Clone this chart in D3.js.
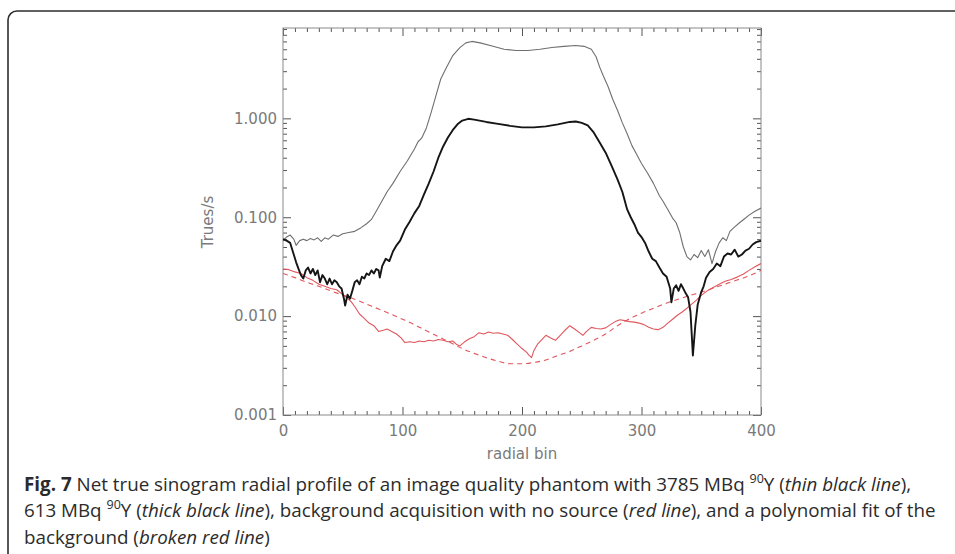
<!DOCTYPE html>
<html>
<head>
<meta charset="utf-8">
<script src="https://cdn.jsdelivr.net/npm/d3@7"></script>
<style>
  body { margin: 0; background: #fff; }
  svg { display: block; }
  .tick-label { font-family: "DejaVu Sans", sans-serif; font-size: 15px; fill: #7a7a7a; }
  .caption { font-family: "Open Sans", sans-serif; font-size: 18.8px; fill: #2b2b2b; }
</style>
</head>
<body>
<div class="chart"></div>
<script>
// radial bins and values
var thinBins = [0, 3, 6, 9, 11, 14, 17, 20, 23, 26, 29, 32, 35, 38, 42, 46, 50, 55, 60, 65, 70, 74, 78, 82, 87, 92, 98, 104, 110, 113, 116, 120, 124, 128, 132, 137, 142, 148, 153, 158, 165, 175, 185, 195, 205, 215, 225, 235, 245, 252, 258, 262, 265, 268, 272, 276, 280, 284, 288, 292, 296, 300, 305, 310, 315, 318, 322, 326, 329, 332, 335, 338, 341, 344, 347, 350, 353, 356, 359, 362, 365, 368, 371, 374, 378, 382, 386, 390, 395, 400];
var thinValues = [0.058, 0.063, 0.066, 0.060, 0.052, 0.058, 0.060, 0.058, 0.061, 0.059, 0.062, 0.057, 0.062, 0.060, 0.066, 0.064, 0.068, 0.070, 0.072, 0.078, 0.086, 0.095, 0.115, 0.14, 0.18, 0.22, 0.29, 0.37, 0.49, 0.58, 0.63, 0.8, 1.15, 1.7, 2.5, 3.3, 4.3, 5.2, 5.8, 6.0, 5.8, 5.4, 5.0, 4.85, 4.85, 5.0, 5.2, 5.35, 5.45, 5.35, 5.0, 4.2, 3.3, 2.7, 2.1, 1.55, 1.2, 0.9, 0.70, 0.53, 0.43, 0.35, 0.28, 0.22, 0.165, 0.145, 0.12, 0.098, 0.088, 0.07, 0.05, 0.04, 0.037, 0.042, 0.039, 0.046, 0.040, 0.047, 0.034, 0.045, 0.055, 0.062, 0.058, 0.072, 0.080, 0.088, 0.096, 0.105, 0.115, 0.124];

var thickBins = [0, 3, 6, 9, 11, 13, 15, 17, 19, 21, 23, 25, 27, 29, 31, 33, 35, 37, 39, 41, 43, 45, 47, 49, 51, 52, 54, 56, 58, 60, 62, 64, 66, 68, 70, 72, 74, 76, 78, 80, 81, 83, 86, 89, 92, 95, 98, 102, 106, 110, 114, 118, 122, 126, 130, 134, 138, 142, 146, 150, 155, 160, 170, 180, 190, 200, 210, 220, 230, 240, 245, 250, 255, 260, 265, 270, 275, 280, 284, 288, 291, 294, 297, 300, 303, 306, 309, 312, 315, 318, 321, 324, 325, 327, 329, 331, 333, 335, 337, 339, 341, 343, 345, 347, 350, 352, 354, 357, 360, 363, 366, 369, 372, 375, 378, 381, 384, 387, 390, 393, 396, 400];
var thickValues = [0.060, 0.058, 0.055, 0.042, 0.035, 0.030, 0.026, 0.024, 0.029, 0.031, 0.027, 0.030, 0.026, 0.029, 0.022, 0.026, 0.024, 0.021, 0.024, 0.021, 0.023, 0.022, 0.020, 0.019, 0.015, 0.0128, 0.0165, 0.0150, 0.018, 0.022, 0.023, 0.021, 0.025, 0.024, 0.027, 0.026, 0.029, 0.027, 0.030, 0.029, 0.0245, 0.032, 0.038, 0.036, 0.045, 0.052, 0.058, 0.075, 0.09, 0.11, 0.13, 0.17, 0.22, 0.29, 0.40, 0.52, 0.64, 0.76, 0.87, 0.95, 0.99, 0.97, 0.92, 0.88, 0.84, 0.81, 0.81, 0.83, 0.87, 0.92, 0.93, 0.90, 0.85, 0.72, 0.57, 0.45, 0.33, 0.24, 0.18, 0.12, 0.10, 0.085, 0.07, 0.063, 0.055, 0.045, 0.038, 0.036, 0.031, 0.027, 0.025, 0.019, 0.0138, 0.019, 0.0205, 0.018, 0.021, 0.019, 0.017, 0.0155, 0.011, 0.004, 0.008, 0.013, 0.0175, 0.020, 0.0245, 0.028, 0.030, 0.034, 0.032, 0.040, 0.043, 0.042, 0.047, 0.040, 0.042, 0.046, 0.048, 0.053, 0.056, 0.058];

var redBins = [0, 5, 10, 15, 20, 25, 30, 35, 40, 45, 50, 53, 57, 60, 64, 68, 72, 76, 80, 84, 87, 91, 95, 99, 102, 106, 110, 114, 118, 122, 126, 130, 134, 138, 142, 145, 148, 152, 156, 160, 164, 168, 172, 176, 180, 184, 188, 192, 196, 200, 204, 206, 208, 210, 213, 216, 220, 224, 228, 232, 236, 240, 244, 248, 251, 254, 258, 262, 266, 270, 274, 278, 282, 286, 290, 294, 298, 302, 306, 310, 314, 318, 322, 326, 330, 334, 338, 342, 346, 350, 355, 360, 365, 370, 375, 380, 385, 390, 395, 400];
var redValues = [0.030, 0.0295, 0.028, 0.027, 0.0245, 0.023, 0.021, 0.020, 0.019, 0.0185, 0.0165, 0.0155, 0.014, 0.0125, 0.0105, 0.0095, 0.0085, 0.0080, 0.0070, 0.0072, 0.0074, 0.0070, 0.0066, 0.0060, 0.0054, 0.0055, 0.0054, 0.0056, 0.0055, 0.0057, 0.0056, 0.0058, 0.0057, 0.0055, 0.0056, 0.0052, 0.0050, 0.0055, 0.0059, 0.0062, 0.0068, 0.0066, 0.0069, 0.0067, 0.0068, 0.0066, 0.0064, 0.0058, 0.0052, 0.0047, 0.0043, 0.0040, 0.0038, 0.0045, 0.0052, 0.0057, 0.0064, 0.0060, 0.0057, 0.0064, 0.0072, 0.0080, 0.0074, 0.0068, 0.0064, 0.0070, 0.0077, 0.0075, 0.0074, 0.0076, 0.0082, 0.0088, 0.0092, 0.0090, 0.0088, 0.0087, 0.0085, 0.0082, 0.0077, 0.0074, 0.0073, 0.0077, 0.0085, 0.0093, 0.0102, 0.0110, 0.0120, 0.0132, 0.0145, 0.0162, 0.0180, 0.0195, 0.0210, 0.0225, 0.0235, 0.0248, 0.0265, 0.0290, 0.0315, 0.0340];

var fitBins = [0, 10, 20, 30, 40, 50, 60, 70, 80, 90, 100, 110, 120, 130, 140, 150, 160, 170, 180, 190, 200, 210, 220, 230, 240, 250, 260, 270, 280, 290, 300, 310, 320, 330, 340, 350, 360, 370, 380, 390, 400];
var fitValues = [0.027, 0.0245, 0.022, 0.020, 0.018, 0.0163, 0.0148, 0.0132, 0.0118, 0.0105, 0.0093, 0.0082, 0.0071, 0.0062, 0.0054, 0.0047, 0.0042, 0.0038, 0.0035, 0.0033, 0.0033, 0.0034, 0.0036, 0.0040, 0.0044, 0.0050, 0.0057, 0.0066, 0.0080, 0.0094, 0.0107, 0.0120, 0.0134, 0.0147, 0.0161, 0.0175, 0.0192, 0.0211, 0.0232, 0.0255, 0.0290];

// axis ticks and labels
var xMajor = [0, 100, 200, 300, 400];
var xLabels = ["0", "100", "200", "300", "400"];
var yMajor = [0.001, 0.01, 0.1, 1];
var yLabels = ["0.001", "0.010", "0.100", "1.000"];

var svgWidth = 955;
var svgHeight = 554;

var plot = { left: 283, right: 761, top: 28, bottom: 415 };

var svg = d3.select(".chart")
  .append("svg")
  .attr("width", svgWidth)
  .attr("height", svgHeight);

// outer figure border with rounded corner
svg.append("rect")
  .attr("x", 8)
  .attr("y", 11)
  .attr("width", 1000)
  .attr("height", 600)
  .attr("rx", 9)
  .attr("fill", "none")
  .attr("stroke", "#2e2e2e")
  .attr("stroke-width", 1.6);

// scales
var x = d3.scaleLinear()
  .domain([0, 400])
  .range([plot.left, plot.right]);

var y = d3.scaleLog()
  .domain([0.001, 8.2])
  .range([plot.bottom, plot.top]);

// minor tick positions
var xMinor = d3.range(0, 401, 10).filter(d => d % 100 !== 0);
var yMinor = [];
[0.001, 0.01, 0.1, 1].forEach(dec => {
  for (var k = 2; k <= 9; k++) {
    if (dec * k <= 8.2) yMinor.push(dec * k);
  }
});

var tickColor = "#555";

function drawAxis(axis, tx, ty, labels) {
  var g = svg.append("g")
    .attr("transform", `translate(${tx}, ${ty})`)
    .call(axis);
  g.select(".domain").remove();
  g.selectAll(".tick line").attr("stroke", tickColor).attr("stroke-width", 1);
  if (labels) {
    g.selectAll(".tick text")
      .attr("class", "tick-label")
      .attr("fill", null);
  } else {
    g.selectAll(".tick text").remove();
  }
  return g;
}

// bottom and top x ticks (pointing inward)
drawAxis(d3.axisBottom(x).tickValues(xMajor).tickSize(-8).tickPadding(10)
  .tickFormat((d, i) => xLabels[i]), 0, plot.bottom, true);
drawAxis(d3.axisBottom(x).tickValues(xMinor).tickSize(-4), 0, plot.bottom, false);
drawAxis(d3.axisTop(x).tickValues(xMajor).tickSize(-8), 0, plot.top, false);
drawAxis(d3.axisTop(x).tickValues(xMinor).tickSize(-4), 0, plot.top, false);

// left and right y ticks (pointing inward)
drawAxis(d3.axisLeft(y).tickValues(yMajor).tickSize(-8).tickPadding(6)
  .tickFormat((d, i) => yLabels[i]), plot.left, 0, true);
drawAxis(d3.axisLeft(y).tickValues(yMinor).tickSize(-4), plot.left, 0, false);
drawAxis(d3.axisRight(y).tickValues(yMajor).tickSize(-8), plot.right, 0, false);
drawAxis(d3.axisRight(y).tickValues(yMinor).tickSize(-4), plot.right, 0, false);

// plot frame
svg.append("rect")
  .attr("x", plot.left)
  .attr("y", plot.top)
  .attr("width", plot.right - plot.left)
  .attr("height", plot.bottom - plot.top)
  .attr("fill", "none")
  .attr("stroke", "#8a8a8a")
  .attr("stroke-width", 1);

// axis titles
svg.append("text")
  .attr("class", "tick-label")
  .attr("x", x(200))
  .attr("y", 459)
  .attr("text-anchor", "middle")
  .text("radial bin");

svg.append("text")
  .attr("class", "tick-label")
  .attr("transform", "translate(213, 222) rotate(-90)")
  .attr("text-anchor", "middle")
  .text("Trues/s");

// clip lines to the plot box
svg.append("clipPath")
  .attr("id", "plot-clip")
  .append("rect")
  .attr("x", plot.left)
  .attr("y", plot.top)
  .attr("width", plot.right - plot.left)
  .attr("height", plot.bottom - plot.top);

var lines = svg.append("g").attr("clip-path", "url(#plot-clip)");

function drawLine(bins, values, color, width, dash, curve) {
  var pts = bins.map((b, i) => [b, values[i]]);
  var line = d3.line()
    .x(d => x(d[0]))
    .y(d => y(d[1]))
    .curve(curve);
  lines.append("path")
    .datum(pts)
    .attr("d", line)
    .attr("fill", "none")
    .attr("stroke", color)
    .attr("stroke-width", width)
    .attr("stroke-linejoin", "round")
    .attr("stroke-dasharray", dash);
}

drawLine(fitBins, fitValues, "#e0565c", 1.1, "5,4", d3.curveMonotoneX);
drawLine(redBins, redValues, "#e0565c", 1.1, null, d3.curveLinear);
drawLine(thinBins, thinValues, "#6f6f6f", 1.1, null, d3.curveLinear);
drawLine(thickBins, thickValues, "#151515", 1.9, null, d3.curveLinear);

// figure caption
var caption = svg.append("g").attr("class", "caption");

var line1 = caption.append("text").attr("x", 24).attr("y", 491);
line1.append("tspan").attr("font-weight", "bold").text("Fig. 7");
line1.append("tspan").text(" Net true sinogram radial profile of an image quality phantom with 3785 MBq ");
line1.append("tspan").attr("font-size", "12.5px").attr("dy", -8).text("90");
line1.append("tspan").attr("dy", 8).text("Y (");
line1.append("tspan").attr("font-style", "italic").text("thin black line");
line1.append("tspan").text("),");

var line2 = caption.append("text").attr("x", 24).attr("y", 517);
line2.append("tspan").text("613 MBq ");
line2.append("tspan").attr("font-size", "12.5px").attr("dy", -8).text("90");
line2.append("tspan").attr("dy", 8).text("Y (");
line2.append("tspan").attr("font-style", "italic").text("thick black line");
line2.append("tspan").text("), background acquisition with no source (");
line2.append("tspan").attr("font-style", "italic").text("red line");
line2.append("tspan").text("), and a polynomial fit of the");

var line3 = caption.append("text").attr("x", 24).attr("y", 544);
line3.append("tspan").text("background (");
line3.append("tspan").attr("font-style", "italic").text("broken red line");
line3.append("tspan").text(")");
</script>
</body>
</html>
